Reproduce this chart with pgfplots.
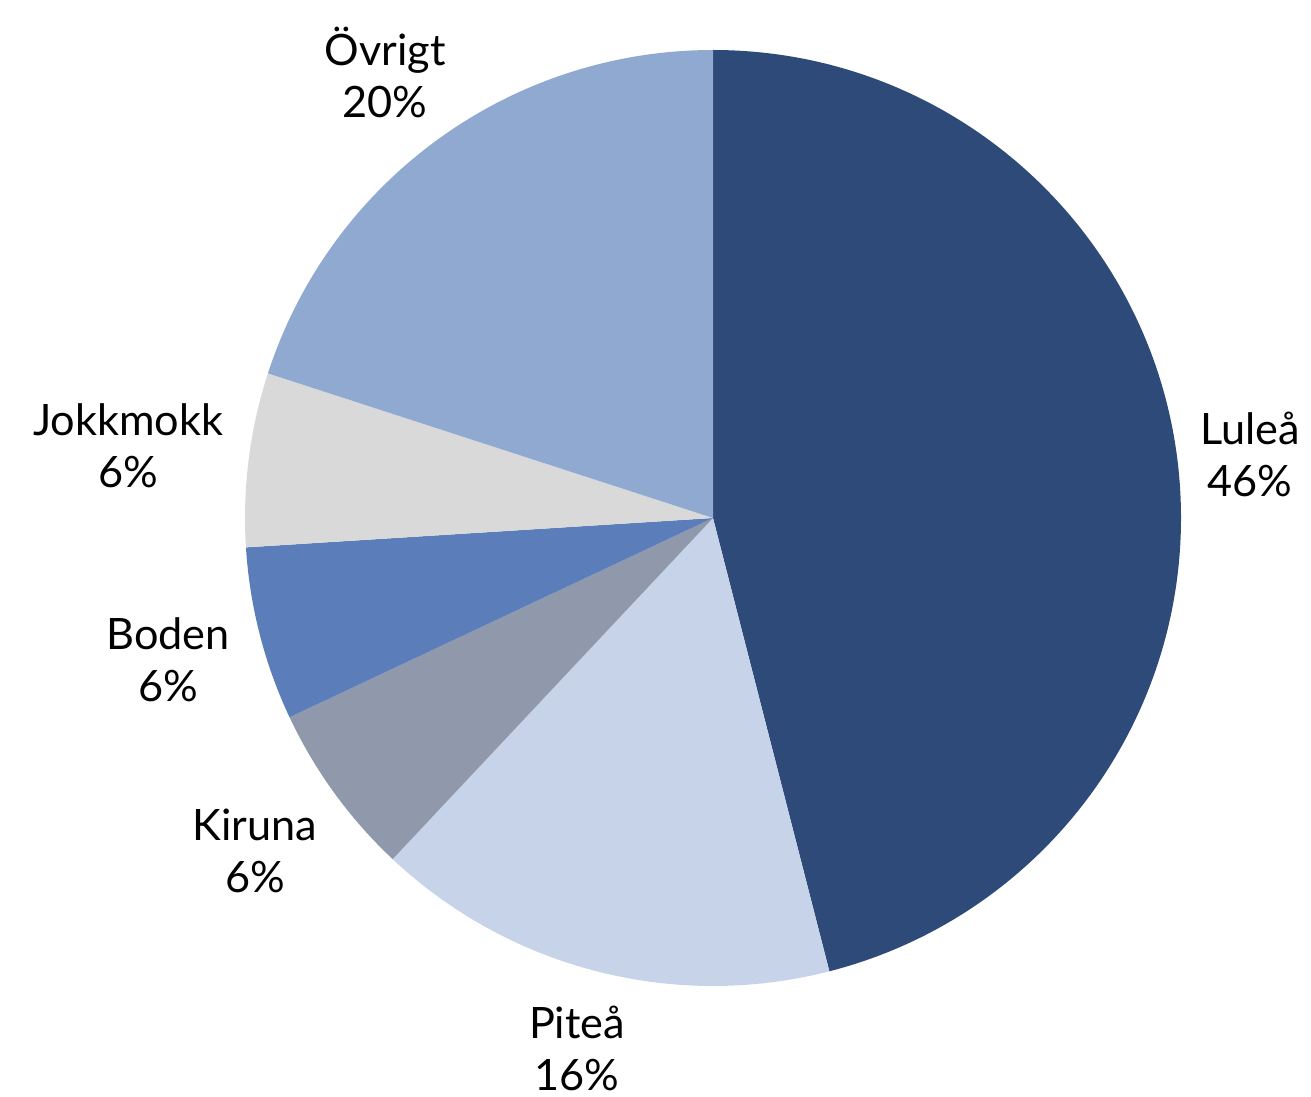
\documentclass[border=0pt]{standalone}
\usepackage{pgfplots}
\pgfplotsset{compat=1.18}
\usepackage{fontspec}
\setmainfont{Lato}
\definecolor{lulea}{HTML}{2E4A78}
\definecolor{pitea}{HTML}{C7D3E9}
\definecolor{kiruna}{HTML}{8F99AB}
\definecolor{boden}{HTML}{5B7EBB}
\definecolor{jokkmokk}{HTML}{D9D9D9}
\definecolor{ovrigt}{HTML}{8FA9D1}
% #1 colour, #2 cumulative share before slice, #3 share (percent)
\newcommand\slice[3]{%
  \pgfmathsetmacro\sa{90-3.6*#2}%
  \pgfmathsetmacro\sb{90-3.6*(#2+#3)}%
  \edef\tmp{\noexpand\fill[#1] (axis cs:713,578) -- ([shift={(\sa:4.68cm)}]axis cs:713,578)
    arc[start angle=\sa, end angle=\sb, radius=4.68cm] -- cycle;}%
  \tmp}
\begin{document}
\begin{tikzpicture}
  \begin{axis}[scale only axis, width=13.11cm, height=10.96cm,
    xmin=0, xmax=1311, ymin=0, ymax=1096, hide axis, clip=false]
    \slice{lulea}{0}{46}
    \slice{pitea}{46}{16}
    \slice{kiruna}{62}{6}
    \slice{boden}{68}{6}
    \slice{jokkmokk}{74}{6}
    \slice{ovrigt}{80}{20}
    \begin{scope}[every node/.style={align=center, font=\fontsize{12.3}{14.8}\selectfont}]
      \node at (axis cs:1250,642) {Luleå\\46\%};
      \node at (axis cs:577,48) {Piteå\\16\%};
      \node at (axis cs:255,245) {Kiruna\\6\%};
      \node at (axis cs:168,436) {Boden\\6\%};
      \node at (axis cs:128,650) {Jokkmokk\\6\%};
      \node at (axis cs:385,1024) {Övrigt\\20\%};
    \end{scope}
  \end{axis}
  \pgfresetboundingbox
  \path (0,0) rectangle (13.11cm,10.96cm);
\end{tikzpicture}
\end{document}
